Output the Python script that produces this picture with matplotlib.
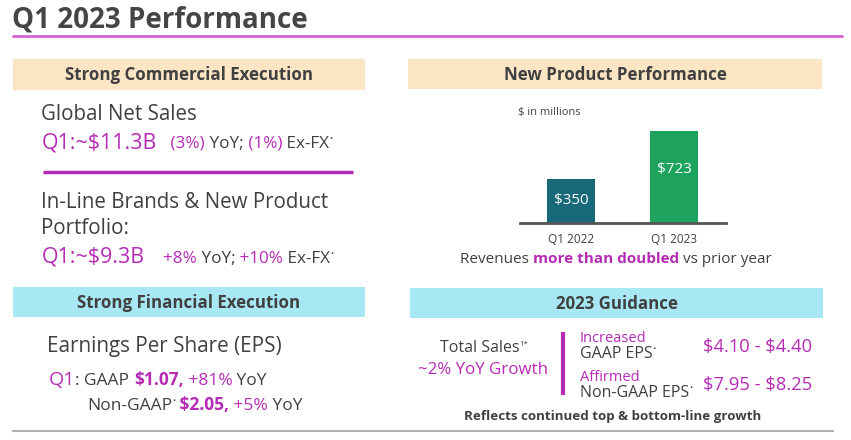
import matplotlib

matplotlib.use("Agg")
import matplotlib.pyplot as plt
import matplotlib.patches as mpatches

plt.rcParams["font.family"] = ["Open Sans", "DejaVu Sans"]

# bar chart data
quarters = ["Q1 2022", "Q1 2023"]
revenue = [350, 723]
bar_colors = ["#17697a", "#1ea35e"]

W, H = 851, 440
GRAY = "#404040"
MAG = "#b52bb5"

fig = plt.figure(figsize=(W / 100, H / 100), dpi=100)
fig.patch.set_facecolor("white")
ax = fig.add_axes([0, 0, 1, 1])
ax.set_xlim(0, W)
ax.set_ylim(H, 0)
ax.axis("off")
r = fig.canvas.get_renderer()


def runs(x, y, parts, ha="left"):
    """Draw text pieces one after another on the same baseline."""
    items = []
    total = 0
    for p in parts:
        s, size, color = p[:3]
        weight = p[3] if len(p) > 3 else "normal"
        dy = p[4] if len(p) > 4 else 0
        t = ax.text(0, y + dy, s, fontsize=size, color=color, fontweight=weight,
                    ha="left", va="baseline")
        w = t.get_window_extent(renderer=r).width
        items.append((t, w))
        total += w
    if ha == "center":
        x -= total / 2
    for t, w in items:
        t.set_x(x)
        x += w
    return x


def header(x0, x1, y0, y1, label, fc):
    ax.add_patch(mpatches.Rectangle((x0, y0), x1 - x0, y1 - y0, facecolor=fc,
                                    edgecolor="none"))
    ax.text((x0 + x1) / 2, (y0 + y1) / 2 + 1, label, fontsize=12.2, color=GRAY,
            fontweight="bold", ha="center", va="center")


DOT = ("•", 6, GRAY, "normal", -7)

# title
ax.text(12, 28, "Q1 2023 Performance", fontsize=20, fontweight="bold",
        color="#454545", ha="left", va="baseline")
ax.plot([12, 843], [36, 36], color="#d462d4", lw=2, solid_capstyle="butt")

# section headers
header(13, 365, 59, 90, "Strong Commercial Execution", "#fbe5c4")
header(408, 822, 59, 89, "New Product Performance", "#fbe5c4")
header(13, 365, 287, 317, "Strong Financial Execution", "#a8e8f4")
header(410, 823, 288, 318, "2023 Guidance", "#a8e8f4")

# commercial execution
ax.text(41, 120, "Global Net Sales", fontsize=14.8, color=GRAY, va="baseline")
runs(42, 148, [(r"Q1:~\$11.3B", 15.4, MAG), ("   (3%)", 12.3, MAG), (" YoY;", 12.3, GRAY),
               (" (1%)", 12.3, MAG), (" Ex-FX", 12.3, GRAY), DOT])
ax.plot([43, 353], [172, 172], color=MAG, lw=2.5, solid_capstyle="butt")
ax.text(41, 208, "In-Line Brands & New Product", fontsize=14.8, color=GRAY, va="baseline")
ax.text(41, 234, "Portfolio:", fontsize=14.8, color=GRAY, va="baseline")
runs(42, 263, [(r"Q1:~\$9.3B", 15.4, MAG), ("    +8%", 12.3, MAG), (" YoY;", 12.3, GRAY),
               (" +10%", 12.3, MAG), (" Ex-FX", 12.3, GRAY), DOT])

# financial execution
ax.text(47, 352, "Earnings Per Share (EPS)", fontsize=14.9, color=GRAY, va="baseline")
runs(49, 385, [("Q1", 14, MAG), (": GAAP ", 12.5, GRAY), (r"\$1.07,", 12.5, MAG, "bold"),
               (" +81%", 12.5, MAG), (" YoY", 12.5, GRAY)])
runs(87, 410, [("Non-GAAP", 12.5, GRAY), DOT, (r" \$2.05,", 12.5, MAG, "bold"),
               (" +5%", 12.5, MAG), (" YoY", 12.5, GRAY)])

# new product performance bar chart (baseline y=223, top of axes y=123)
bx0, bx1, by_top, by_base = 520, 726, 123, 223
bax = fig.add_axes([bx0 / W, 1 - by_base / H, (bx1 - bx0) / W, (by_base - by_top) / H])
pos = range(len(quarters))
bars = bax.bar(pos, revenue, width=0.47, color=bar_colors)
bax.set_xlim(-0.495, 1.505)
bax.set_ylim(0, 787)
bax.set_xticks(list(pos))
bax.set_xticklabels(quarters, fontsize=8.5, color=GRAY)
bax.tick_params(axis="x", length=0, pad=7)
bax.set_yticks([])
for s in ["top", "left", "right"]:
    bax.spines[s].set_visible(False)
bax.spines["bottom"].set_color("#555555")
bax.spines["bottom"].set_linewidth(2)
bax.patch.set_alpha(0)
for b, v in zip(bars, revenue):
    bax.text(b.get_x() + b.get_width() / 2, v / 2 if v < 500 else v * 0.58, rf"\${v}",
             ha="center", va="center", color="white", fontsize=11)
ax.text(518, 115, r"\$ in millions", fontsize=8, color=GRAY, va="baseline")
runs(616, 263, [("Revenues ", 11, GRAY), ("more than doubled", 11, MAG, "bold"),
                (" vs prior year", 11, GRAY)], ha="center")

# guidance
runs(484, 352, [("Total Sales", 11.5, GRAY), ("1*", 5.5, GRAY, "normal", -6)], ha="center")
ax.text(483, 374, "~2% YoY Growth", fontsize=12.2, color=MAG, ha="center", va="baseline")
ax.plot([563, 563], [332, 395], color=MAG, lw=3, solid_capstyle="butt")
ax.text(580, 342, "Increased", fontsize=10.5, color=MAG, va="baseline")
runs(580, 358, [("GAAP EPS", 11.5, GRAY), DOT])
ax.text(703, 352, r"\$4.10 - \$4.40", fontsize=13.2, color=MAG, va="baseline")
ax.text(580, 381, "Affirmed", fontsize=10.5, color=MAG, va="baseline")
runs(580, 397, [("Non-GAAP EPS", 11.5, GRAY), DOT])
ax.text(703, 390, r"\$7.95 - \$8.25", fontsize=13.2, color=MAG, va="baseline")
ax.text(613, 420, "Reflects continued top & bottom-line growth", fontsize=9.6,
        fontweight="bold", color=GRAY, ha="center", va="baseline")

# footer rule
ax.plot([13, 833], [431, 431], color="#b0b0b0", lw=1.5)

fig.savefig("out.png", dpi=100, facecolor="white")
